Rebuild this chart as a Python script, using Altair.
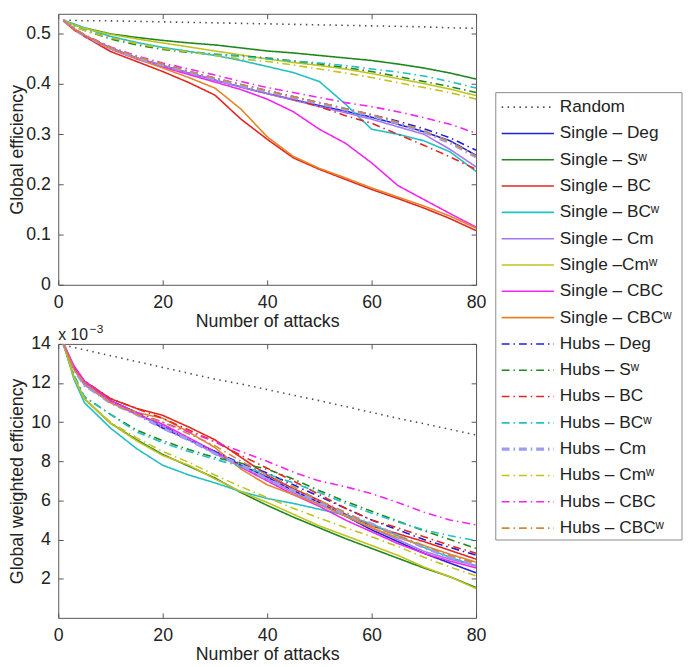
import altair as alt
import pandas as pd

X = [1, 3, 5, 10, 15, 20, 25, 30, 35, 40, 45, 50, 55, 60, 65, 70, 75, 80]

SERIES = ["Random", "Single – Deg", "Single – Sʷ", "Single – BC", "Single – BCʷ",
          "Single – Cm", "Single –Cmʷ", "Single – CBC", "Single – CBCʷ",
          "Hubs – Deg", "Hubs – Sʷ", "Hubs – BC", "Hubs – BCʷ", "Hubs – Cm",
          "Hubs – Cmʷ", "Hubs – CBC", "Hubs – CBCʷ"]

COLORS = ["#4d4d4d", "#1f1fd6", "#1e871e", "#e3261f", "#22bfc4", "#a375ee", "#c2c21f", "#f026f0", "#e3862a",
          "#1f1fd6", "#1e871e", "#e3261f", "#22bfc4", "#9c9cf2", "#c2c21f", "#f026f0", "#d08a3a"]

DOT = [1.5, 4.5]
SOLID = [1, 0]
DASHDOT = [8, 4, 1.5, 4]
DASHES = [DOT] + [SOLID] * 8 + [DASHDOT] * 8

EXPONENT_BASE = ["x 10"]
EXPONENT_POWER = ["−3"]

X_TICKS = [0, 20, 40, 60, 80]
GE_TICKS = [0, 0.1, 0.2, 0.3, 0.4, 0.5]
GWE_TICKS = [2, 4, 6, 8, 10, 12, 14]

# Global efficiency (top panel)
GE = {
    "Random":        [0.527, 0.527, 0.526, 0.526, 0.525, 0.524, 0.523, 0.522, 0.521, 0.520, 0.519, 0.518, 0.517, 0.516, 0.515, 0.514, 0.512, 0.511],
    "Single – Deg":  [0.527, 0.510, 0.497, 0.472, 0.452, 0.437, 0.422, 0.408, 0.394, 0.381, 0.369, 0.357, 0.346, 0.334, 0.320, 0.305, 0.287, 0.258],
    "Single – Sʷ":   [0.527, 0.518, 0.512, 0.500, 0.493, 0.487, 0.482, 0.478, 0.472, 0.466, 0.462, 0.457, 0.452, 0.447, 0.440, 0.432, 0.422, 0.410],
    "Single – BC":   [0.527, 0.508, 0.495, 0.465, 0.445, 0.425, 0.403, 0.378, 0.330, 0.290, 0.253, 0.230, 0.210, 0.190, 0.172, 0.153, 0.132, 0.108],
    "Single – BCʷ":  [0.527, 0.520, 0.512, 0.495, 0.483, 0.473, 0.465, 0.457, 0.447, 0.435, 0.423, 0.405, 0.360, 0.310, 0.300, 0.287, 0.265, 0.226],
    "Single – Cm":   [0.527, 0.510, 0.497, 0.472, 0.452, 0.437, 0.422, 0.408, 0.394, 0.381, 0.368, 0.355, 0.343, 0.330, 0.315, 0.300, 0.270, 0.235],
    "Single –Cmʷ":   [0.527, 0.518, 0.511, 0.499, 0.490, 0.482, 0.474, 0.466, 0.458, 0.450, 0.443, 0.437, 0.430, 0.421, 0.411, 0.401, 0.390, 0.377],
    "Single – CBC":  [0.527, 0.510, 0.497, 0.470, 0.450, 0.434, 0.419, 0.404, 0.389, 0.370, 0.345, 0.310, 0.282, 0.243, 0.198, 0.170, 0.142, 0.115],
    "Single – CBCʷ": [0.527, 0.510, 0.498, 0.470, 0.451, 0.432, 0.413, 0.392, 0.350, 0.295, 0.256, 0.232, 0.213, 0.193, 0.175, 0.157, 0.137, 0.113],
    "Hubs – Deg":    [0.527, 0.510, 0.497, 0.472, 0.453, 0.439, 0.425, 0.412, 0.399, 0.387, 0.375, 0.363, 0.351, 0.339, 0.326, 0.311, 0.293, 0.268],
    "Hubs – Sʷ":     [0.527, 0.515, 0.507, 0.490, 0.478, 0.469, 0.463, 0.459, 0.456, 0.452, 0.446, 0.440, 0.433, 0.425, 0.415, 0.405, 0.395, 0.383],
    "Hubs – BC":     [0.527, 0.510, 0.497, 0.472, 0.453, 0.438, 0.424, 0.410, 0.396, 0.383, 0.370, 0.355, 0.337, 0.322, 0.300, 0.278, 0.255, 0.230],
    "Hubs – BCʷ":    [0.527, 0.516, 0.508, 0.493, 0.482, 0.472, 0.465, 0.460, 0.455, 0.450, 0.446, 0.442, 0.437, 0.430, 0.424, 0.416, 0.405, 0.392],
    "Hubs – Cm":     [0.527, 0.510, 0.497, 0.472, 0.453, 0.438, 0.424, 0.410, 0.397, 0.385, 0.373, 0.361, 0.349, 0.337, 0.322, 0.305, 0.283, 0.255],
    "Hubs – Cmʷ":    [0.527, 0.515, 0.507, 0.492, 0.481, 0.471, 0.464, 0.457, 0.450, 0.445, 0.438, 0.430, 0.422, 0.413, 0.403, 0.393, 0.383, 0.370],
    "Hubs – CBC":    [0.527, 0.510, 0.498, 0.474, 0.456, 0.442, 0.430, 0.418, 0.405, 0.393, 0.383, 0.373, 0.363, 0.355, 0.345, 0.333, 0.320, 0.302],
    "Hubs – CBCʷ":   [0.527, 0.510, 0.498, 0.473, 0.455, 0.440, 0.426, 0.412, 0.399, 0.387, 0.375, 0.363, 0.351, 0.339, 0.324, 0.307, 0.285, 0.256],
}

# Global weighted efficiency (bottom panel, x 10^-3)
GWE = {
    "Random":        [13.94, 13.82, 13.70, 13.40, 13.10, 12.80, 12.50, 12.20, 11.95, 11.67, 11.38, 11.10, 10.80, 10.50, 10.20, 9.92, 9.63, 9.35],
    "Single – Deg":  [14.0, 12.8, 12.0, 11.1, 10.5, 9.7, 9.1, 8.5, 7.8, 7.2, 6.5, 5.9, 5.2, 4.5, 3.9, 3.3, 2.8, 2.3],
    "Single – Sʷ":   [14.0, 12.3, 11.2, 9.95, 9.1, 8.35, 7.75, 7.15, 6.4, 5.75, 5.15, 4.6, 4.05, 3.55, 3.05, 2.55, 2.1, 1.55],
    "Single – BC":   [14.0, 12.8, 12.1, 11.2, 10.7, 10.35, 9.75, 9.1, 8.2, 7.3, 6.6, 6.0, 5.3, 4.7, 4.3, 3.9, 3.45, 3.0],
    "Single – BCʷ":  [14.0, 12.2, 11.0, 9.7, 8.65, 7.8, 7.3, 6.9, 6.45, 6.1, 5.85, 5.55, 5.25, 4.8, 4.2, 3.6, 3.1, 2.65],
    "Single – Cm":   [14.0, 12.7, 11.9, 11.0, 10.4, 9.8, 9.1, 8.4, 7.7, 7.1, 6.4, 5.8, 5.2, 4.6, 4.0, 3.4, 3.0, 2.65],
    "Single –Cmʷ":   [14.0, 12.3, 11.2, 9.95, 9.05, 8.3, 7.8, 7.1, 6.45, 5.9, 5.3, 4.7, 4.2, 3.7, 3.2, 2.6, 2.1, 1.5],
    "Single – CBC":  [14.0, 12.9, 12.1, 11.1, 10.4, 9.9, 9.2, 8.5, 7.7, 7.0, 6.3, 5.7, 5.0, 4.4, 3.8, 3.3, 2.9, 2.55],
    "Single – CBCʷ": [14.0, 12.7, 12.0, 11.0, 10.5, 10.2, 9.5, 8.7, 7.6, 6.8, 6.3, 5.8, 5.2, 4.6, 4.1, 3.7, 3.25, 2.85],
    "Hubs – Deg":    [14.0, 12.7, 12.0, 11.0, 10.4, 9.8, 9.1, 8.5, 7.9, 7.4, 6.8, 6.2, 5.6, 5.0, 4.5, 4.0, 3.6, 3.2],
    "Hubs – Sʷ":     [14.0, 12.4, 11.3, 10.4, 9.6, 9.05, 8.6, 8.2, 7.9, 7.6, 7.1, 6.5, 5.95, 5.45, 4.95, 4.45, 4.0, 3.55],
    "Hubs – BC":     [14.0, 12.8, 12.1, 11.2, 10.7, 10.2, 9.6, 9.0, 8.3, 7.65, 7.0, 6.3, 5.6, 5.0, 4.6, 4.15, 3.7, 3.3],
    "Hubs – BCʷ":    [14.0, 12.4, 11.3, 10.4, 9.5, 8.95, 8.5, 8.1, 7.75, 7.35, 6.9, 6.4, 5.85, 5.35, 4.9, 4.5, 4.2, 3.95],
    "Hubs – Cm":     [14.0, 12.7, 11.9, 11.0, 10.4, 9.7, 9.1, 8.4, 7.8, 7.1, 6.5, 5.9, 5.3, 4.8, 4.2, 3.6, 3.1, 2.7],
    "Hubs – Cmʷ":    [14.0, 12.3, 11.2, 10.0, 9.2, 8.5, 7.95, 7.3, 6.7, 6.15, 5.6, 5.1, 4.6, 4.15, 3.65, 3.1, 2.6, 2.15],
    "Hubs – CBC":    [14.0, 12.8, 12.1, 11.1, 10.5, 10.0, 9.5, 9.0, 8.5, 8.0, 7.45, 7.0, 6.7, 6.35, 5.9, 5.4, 5.0, 4.75],
    "Hubs – CBCʷ":   [14.0, 12.7, 12.0, 11.0, 10.4, 10.0, 9.4, 8.8, 8.0, 7.3, 6.7, 6.0, 5.4, 4.7, 4.2, 3.7, 3.2, 2.8],
}

FONT = "Liberation Sans"
LW = 1.6
TICK = 5

rows = []
for panel_name, data in (("GE", GE), ("GWE", GWE)):
    for s in SERIES:
        for xv, yv in zip(X, data[s]):
            rows.append({"panel": panel_name, "series": s, "x": xv, "y": yv})
df = pd.DataFrame(rows)

color_scale = alt.Scale(domain=SERIES, range=COLORS)
dash_scale = alt.Scale(domain=SERIES, range=DASHES)


def panel(name, ytitle, ydomain, yvalues, extent):
    d = df[df.panel == name]
    xs = alt.Scale(domain=[0, 80], nice=False, zero=False)
    ys = alt.Scale(domain=ydomain, nice=False)
    lines = alt.Chart(d).mark_line(clip=True).encode(
        x=alt.X("x:Q", scale=xs,
                axis=alt.Axis(values=X_TICKS, title="Number of attacks", orient="bottom",
                              offset=-TICK, ticks=True, tickSize=TICK, labelFlush=False,
                              labelPadding=9, titlePadding=1)),
        y=alt.Y("y:Q", scale=ys,
                axis=alt.Axis(values=yvalues, format="~g", title=ytitle, orient="left",
                              offset=-TICK, ticks=True, tickSize=TICK, labelFlush=False,
                              labelPadding=8, titlePadding=2, minExtent=extent, maxExtent=extent)),
        color=alt.Color("series:N", scale=color_scale, legend=None),
        strokeDash=alt.StrokeDash("series:N", scale=dash_scale, legend=None),
        strokeWidth=alt.condition("datum.series == 'Hubs – Cm'", alt.value(3.2), alt.value(LW)),
    )
    frame_ticks = alt.Chart(d).mark_line(opacity=0).encode(
        x=alt.X("x:Q", scale=xs,
                axis=alt.Axis(values=X_TICKS, title=None, orient="top", labels=False,
                              offset=-TICK, ticks=True, tickSize=TICK)),
        y=alt.Y("y:Q", scale=ys,
                axis=alt.Axis(values=yvalues, title=None, orient="right", labels=False,
                              offset=-TICK, ticks=True, tickSize=TICK)),
        detail="series:N",
    )
    return lines, frame_ticks


top_lines, top_ticks = panel("GE", "Global efficiency", [0, 0.54], GE_TICKS, 35)
top = alt.layer(top_lines, top_ticks).resolve_axis(x="independent", y="independent").properties(
    width=424, height=275)

bot_lines, bot_ticks = panel("GWE", "Global weighted efficiency", [0, 14], GWE_TICKS, 35)
exp_base = alt.Chart(pd.DataFrame({"label": EXPONENT_BASE})).mark_text(
    align="left", baseline="alphabetic", fontSize=16, font=FONT, color="#222"
).encode(x=alt.value(0), y=alt.value(-4), text="label:N")
exp_power = alt.Chart(pd.DataFrame({"label": EXPONENT_POWER})).mark_text(
    align="left", baseline="alphabetic", fontSize=12, font=FONT, color="#222"
).encode(x=alt.value(32), y=alt.value(-11), text="label:N")
bottom = alt.layer(bot_lines, bot_ticks, exp_base, exp_power).resolve_axis(
    x="independent", y="independent").properties(width=424, height=278)

# legend panel
LEG_IDX = list(range(len(SERIES)))
leg_df = pd.DataFrame({"series": SERIES, "idx": LEG_IDX})
leg_y = alt.Y("idx:Q", scale=alt.Scale(domain=[-3.547, 16.453], reverse=True, nice=False, zero=False), axis=None)

box = alt.Chart(pd.DataFrame({"a": [0]})).mark_rect(fill="white", stroke="#888", strokeWidth=1).encode(
    x=alt.value(0), x2=alt.value(189), y=alt.value(80), y2=alt.value(534))
leg_lines = alt.Chart(leg_df).mark_rule().encode(
    x=alt.value(6), x2=alt.value(59), y=leg_y,
    color=alt.Color("series:N", scale=color_scale, legend=None),
    strokeDash=alt.StrokeDash("series:N", scale=dash_scale, legend=None),
    strokeWidth=alt.condition("datum.series == 'Hubs – Cm'", alt.value(3.2), alt.value(LW)),
)
leg_text = alt.Chart(leg_df).mark_text(align="left", baseline="middle", fontSize=17.5, font=FONT,
                                       color="#222").encode(
    x=alt.value(65), y=leg_y, text="series:N")
legend = alt.layer(box, leg_lines, leg_text).properties(
    width=189, height=534, view=alt.ViewBackground(strokeOpacity=0))

chart = alt.hconcat(
    alt.vconcat(top, bottom, spacing=60, bounds="flush"),
    legend, spacing=8
).properties(padding=0).configure(font=FONT).configure_axis(
    labelFont=FONT, titleFont=FONT, labelFontSize=18, titleFontSize=18,
    titleFontWeight="normal", labelColor="#222", titleColor="#222",
    grid=False, domain=False, tickColor="#555", tickWidth=1
).configure_view(stroke="#555", strokeWidth=1)

chart.save("out.html", embed_options={"renderer": "svg", "actions": False})
